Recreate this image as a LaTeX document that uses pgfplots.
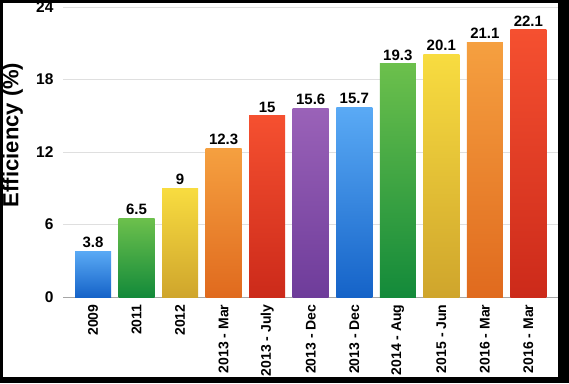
\documentclass[border=0pt]{standalone}
\usepackage{fontspec}
\setmainfont{Liberation Sans}
\usepackage{pgfplots}
\pgfplotsset{compat=1.18}
\definecolor{blT}{HTML}{5AAAF5}\definecolor{blB}{HTML}{1563C8}
\definecolor{grT}{HTML}{6CC04C}\definecolor{grB}{HTML}{138A3A}
\definecolor{yeT}{HTML}{F8DC40}\definecolor{yeB}{HTML}{CFA52C}
\definecolor{orT}{HTML}{F5A040}\definecolor{orB}{HTML}{E06A1E}
\definecolor{reT}{HTML}{F55030}\definecolor{reB}{HTML}{CC2A1A}
\definecolor{puT}{HTML}{9A62B8}\definecolor{puB}{HTML}{6E3C9A}
\begin{document}
\begin{tikzpicture}
\useasboundingbox (0pt,0pt) rectangle (569pt,383pt);
\clip (0pt,0pt) rectangle (569pt,383pt);
\fill[black] (0pt,0pt) rectangle (569pt,383pt);
\fill[white] (3pt,6pt) rectangle (558pt,380pt);
\begin{axis}[
  at={(63pt,86pt)}, anchor=south west,
  scale only axis, width=495pt, height=290pt,
  xmin=-0.69, xmax=10.68, ymin=0, ymax=24,
  ytick={0,6,12,18,24},
  xtick={0,...,10},
  xticklabels={2009,2011,2012,2013 - Mar,2013 - July,2013 - Dec,2013 - Dec,2014 - Aug,2015 - Jun,2016 - Mar,2016 - Mar},
  /pgf/number format/assume math mode=true,
  axis x line*=bottom, axis y line*=left,
  x axis line style={gray!70, line width=1pt, -},
  y axis line style={draw=none},
  major tick length=0pt,
  ymajorgrids, grid style={gray!25, line width=0.6pt},
  yticklabel style={font=\bfseries\fontsize{15.5}{16}\selectfont, xshift=-6pt},
  xticklabel style={font=\bfseries\fontsize{14}{14}\selectfont, rotate=90, anchor=east, xshift=-4pt},
  ylabel={Efficiency (\%)},
  ylabel style={font=\bfseries\fontsize{22}{22}\selectfont, at={(axis description cs:-0.123,0.559)}, anchor=north, inner sep=0pt},
  ybar, bar width=36pt, bar shift=0pt,
  nodes near coords,
  every node near coord/.append style={font=\bfseries\fontsize{15}{15}\selectfont, black},
  clip=false,
]
\addplot[draw=none, top color=blT, bottom color=blB] coordinates {(0,3.8)};
\addplot[draw=none, top color=grT, bottom color=grB] coordinates {(1,6.5)};
\addplot[draw=none, top color=yeT, bottom color=yeB] coordinates {(2,9)};
\addplot[draw=none, top color=orT, bottom color=orB] coordinates {(3,12.3)};
\addplot[draw=none, top color=reT, bottom color=reB] coordinates {(4,15)};
\addplot[draw=none, top color=puT, bottom color=puB] coordinates {(5,15.6)};
\addplot[draw=none, top color=blT, bottom color=blB] coordinates {(6,15.7)};
\addplot[draw=none, top color=grT, bottom color=grB] coordinates {(7,19.3)};
\addplot[draw=none, top color=yeT, bottom color=yeB] coordinates {(8,20.1)};
\addplot[draw=none, top color=orT, bottom color=orB] coordinates {(9,21.1)};
\addplot[draw=none, top color=reT, bottom color=reB] coordinates {(10,22.1)};
\end{axis}
\end{tikzpicture}
\end{document}
